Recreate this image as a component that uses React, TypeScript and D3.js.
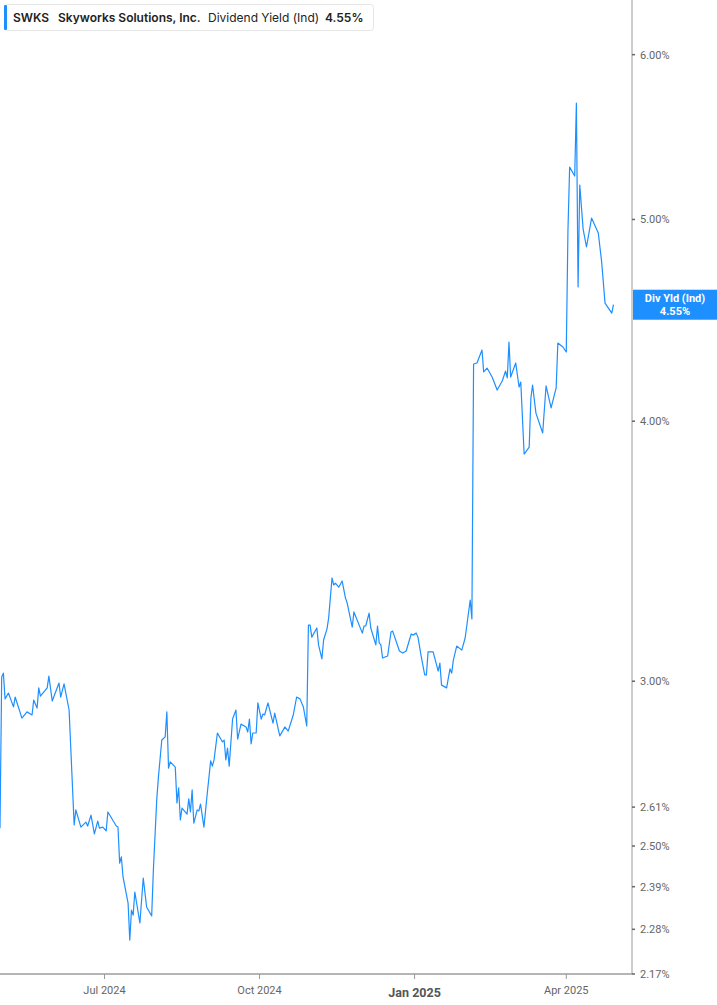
import React from 'react';
import * as d3 from 'd3';

// daily dividend yield (%)
const dates = [
  '2024-04-30', '2024-05-01', '2024-05-02', '2024-05-03', '2024-05-05', '2024-05-08', '2024-05-09', '2024-05-13',
  '2024-05-16', '2024-05-19', '2024-05-20', '2024-05-22', '2024-05-23', '2024-05-24', '2024-05-28', '2024-05-29',
  '2024-05-31', '2024-06-04', '2024-06-05', '2024-06-07', '2024-06-10', '2024-06-13', '2024-06-14', '2024-06-17',
  '2024-06-20', '2024-06-21', '2024-06-23', '2024-06-25', '2024-06-27', '2024-06-28', '2024-06-30', '2024-07-02',
  '2024-07-03', '2024-07-08', '2024-07-09', '2024-07-10', '2024-07-11', '2024-07-12', '2024-07-15', '2024-07-16',
  '2024-07-17', '2024-07-18', '2024-07-19', '2024-07-22', '2024-07-24', '2024-07-26', '2024-07-29', '2024-07-30',
  '2024-08-01', '2024-08-02', '2024-08-04', '2024-08-06', '2024-08-07', '2024-08-08', '2024-08-09', '2024-08-12',
  '2024-08-13', '2024-08-14', '2024-08-15', '2024-08-16', '2024-08-19', '2024-08-20', '2024-08-21', '2024-08-22',
  '2024-08-23', '2024-08-25', '2024-08-26', '2024-08-27', '2024-08-29', '2024-08-31', '2024-09-02', '2024-09-03',
  '2024-09-04', '2024-09-06', '2024-09-09', '2024-09-10', '2024-09-11', '2024-09-12', '2024-09-13', '2024-09-15',
  '2024-09-17', '2024-09-18', '2024-09-20', '2024-09-23', '2024-09-24', '2024-09-25', '2024-09-26', '2024-09-27',
  '2024-09-29', '2024-09-30', '2024-10-02', '2024-10-03', '2024-10-04', '2024-10-06', '2024-10-09', '2024-10-10',
  '2024-10-13', '2024-10-15', '2024-10-16', '2024-10-18', '2024-10-21', '2024-10-23', '2024-10-25', '2024-10-27',
  '2024-10-29', '2024-10-30', '2024-10-31', '2024-11-01', '2024-11-04', '2024-11-05', '2024-11-07', '2024-11-08',
  '2024-11-10', '2024-11-11', '2024-11-13', '2024-11-14', '2024-11-15', '2024-11-17', '2024-11-19', '2024-11-21',
  '2024-11-22', '2024-11-25', '2024-11-26', '2024-12-01', '2024-12-02', '2024-12-03', '2024-12-05', '2024-12-06',
  '2024-12-09', '2024-12-10', '2024-12-11', '2024-12-12', '2024-12-13', '2024-12-16', '2024-12-18', '2024-12-19',
  '2024-12-23', '2024-12-25', '2024-12-27', '2024-12-30', '2024-12-31', '2025-01-02', '2025-01-03', '2025-01-05',
  '2025-01-07', '2025-01-08', '2025-01-09', '2025-01-12', '2025-01-15', '2025-01-16', '2025-01-17', '2025-01-20',
  '2025-01-22', '2025-01-23', '2025-01-24', '2025-01-26', '2025-01-29', '2025-01-31', '2025-02-03', '2025-02-04',
  '2025-02-05', '2025-02-07', '2025-02-10', '2025-02-11', '2025-02-13', '2025-02-16', '2025-02-19', '2025-02-22',
  '2025-02-24', '2025-02-25', '2025-02-26', '2025-02-27', '2025-03-02', '2025-03-04', '2025-03-05', '2025-03-07',
  '2025-03-10', '2025-03-11', '2025-03-12', '2025-03-14', '2025-03-18', '2025-03-20', '2025-03-23', '2025-03-26',
  '2025-03-27', '2025-03-30', '2025-04-01', '2025-04-02', '2025-04-03', '2025-04-06', '2025-04-07', '2025-04-08',
  '2025-04-09', '2025-04-11', '2025-04-13', '2025-04-16', '2025-04-20', '2025-04-22', '2025-04-24', '2025-04-28',
  '2025-04-29',
];

const yields = [
  2.550, 3.014, 3.027, 2.942, 2.961, 2.916, 2.948, 2.880,
  2.900, 2.890, 2.938, 2.912, 2.978, 2.951, 2.978, 3.017,
  2.935, 2.994, 2.948, 2.991, 2.906, 2.559, 2.602, 2.553,
  2.567, 2.556, 2.587, 2.534, 2.570, 2.550, 2.553, 2.542,
  2.596, 2.556, 2.553, 2.453, 2.470, 2.416, 2.347, 2.253,
  2.329, 2.316, 2.376, 2.296, 2.413, 2.337, 2.314, 2.434,
  2.631, 2.698, 2.811, 2.821, 2.900, 2.725, 2.744, 2.728,
  2.622, 2.666, 2.573, 2.607, 2.590, 2.634, 2.596, 2.660,
  2.564, 2.602, 2.599, 2.619, 2.553, 2.651, 2.747, 2.731,
  2.750, 2.833, 2.805, 2.811, 2.750, 2.786, 2.731, 2.877,
  2.906, 2.814, 2.861, 2.852, 2.836, 2.877, 2.799, 2.833,
  2.833, 2.929, 2.877, 2.893, 2.890, 2.929, 2.864, 2.896,
  2.824, 2.842, 2.852, 2.839, 2.890, 2.948, 2.942, 2.916,
  2.855, 3.192, 3.192, 3.150, 3.182, 3.123, 3.075, 3.140,
  3.178, 3.217, 3.363, 3.337, 3.344, 3.329, 3.352, 3.289,
  3.271, 3.185, 3.239, 3.164, 3.189, 3.189, 3.235, 3.182,
  3.123, 3.189, 3.130, 3.123, 3.078, 3.085, 3.168, 3.171,
  3.102, 3.095, 3.102, 3.161, 3.157, 3.164, 3.150, 3.081,
  3.021, 3.021, 3.099, 3.099, 3.034, 3.061, 2.987, 2.978,
  3.041, 3.027, 3.071, 3.119, 3.105, 3.147, 3.282, 3.214,
  4.261, 4.266, 4.328, 4.224, 4.242, 4.200, 4.140, 4.182,
  4.228, 4.196, 4.366, 4.200, 4.266, 4.154, 4.177, 3.857,
  3.887, 4.104, 4.163, 4.036, 3.948, 4.159, 4.059, 4.150,
  4.361, 4.342, 4.318, 4.942, 5.298, 5.246, 5.687, 4.640,
  5.194, 4.947, 4.850, 5.008, 4.926, 4.770, 4.558, 4.508,
  4.55,
];

const yTicks = [2.17, 2.28, 2.39, 2.5, 2.61, 3, 4, 5, 6];
const xTicks = ['2024-07-01', '2024-10-01', '2025-01-01', '2025-04-01'];
const xTickLabels = ['Jul 2024', 'Oct 2024', 'Jan 2025', 'Apr 2025'];
const ticker = 'SWKS';
const company = 'Skyworks Solutions, Inc.';
const metric = 'Dividend Yield (Ind)';
const shortMetric = 'Div Yld (Ind)';
const lastValue = 4.55;

const W = 717;
const H = 1005;
const plotRight = 632;
const plotBottom = 974;
const blue = '#1e8fff';

const parse = d3.timeParse('%Y-%m-%d');

const App = () => {
  const data = dates.map((d, i) => ({ date: parse(d) as Date, value: yields[i] }));

  const x = d3
    .scaleTime()
    .domain([parse('2024-04-30') as Date, parse('2025-05-10') as Date])
    .range([0, plotRight]);

  const y = d3.scaleLog().domain([2.17, 6.374]).range([plotBottom, 0]);

  const line = d3
    .line<{ date: Date; value: number }>()
    .x((d) => x(d.date))
    .y((d) => y(d.value));

  const fmt = (v: number) => v.toFixed(2) + '%';
  const lastY = y(lastValue);

  return (
    <svg
      width={W}
      height={H}
      style={{ position: 'absolute', left: 0, top: 0, background: '#fff' }}
    >
      {/* series */}
      <path d={line(data) || ''} fill="none" stroke={blue} strokeWidth={1.2} strokeLinejoin="round" />

      {/* bottom axis */}
      <line x1={0} x2={plotRight} y1={plotBottom} y2={plotBottom} stroke="#b5b5b5" strokeWidth={2} />
      {xTicks.map((t, i) => {
        const xx = x(parse(t) as Date);
        const bold = xTickLabels[i].startsWith('Jan');
        return (
          <g key={t}>
            <line x1={xx} x2={xx} y1={plotBottom} y2={plotBottom + 5} stroke="#999" />
            <text
              x={xx}
              y={bold ? 997 : 994}
              textAnchor="middle"
              fontFamily="Roboto, sans-serif"
              fontSize={bold ? 12.5 : 11}
              fontWeight={bold ? 700 : 400}
              fill={bold ? '#555' : '#666'}
            >
              {xTickLabels[i]}
            </text>
          </g>
        );
      })}

      {/* right axis */}
      <line x1={plotRight} x2={plotRight} y1={0} y2={plotBottom} stroke="#9a9a9a" strokeWidth={1} />
      {yTicks.map((t) => (
        <g key={t}>
          <line x1={plotRight} x2={plotRight + 3} y1={y(t)} y2={y(t)} stroke="#666" strokeWidth={1.5} />
          <text
            x={640}
            y={y(t) + 4}
            fontFamily="Roboto, sans-serif"
            fontSize={11}
            fill="#666"
          >
            {fmt(t)}
          </text>
        </g>
      ))}

      {/* last value label */}
      <rect x={plotRight + 1} y={lastY - 15} width={W - plotRight - 1} height={30} fill={blue} />
      <text x={675} y={lastY - 3} textAnchor="middle" fontFamily="Roboto, sans-serif" fontSize={11} fontWeight={700} fill="#fff">
        {shortMetric}
      </text>
      <text x={675} y={lastY + 10} textAnchor="middle" fontFamily="Roboto, sans-serif" fontSize={11} fontWeight={700} fill="#fff">
        {fmt(lastValue)}
      </text>

      {/* legend */}
      <rect x={4.5} y={4.5} width={369} height={26} rx={3} fill="#fff" stroke="#e6e6e6" />
      <rect x={4} y={5} width={3} height={25} rx={1} fill={blue} />
      <g fontFamily="Inter, sans-serif" fontSize={12} fill="#222">
        <text x={13} y={21.5} fontWeight={600}>{ticker}</text>
        <text x={58} y={21.5} fontWeight={600}>{company}</text>
        <text x={208} y={21.5} fontWeight={400}>{metric}</text>
        <text x={325} y={21.5} fontWeight={600}>{fmt(lastValue)}</text>
      </g>
    </svg>
  );
};

export default App;
